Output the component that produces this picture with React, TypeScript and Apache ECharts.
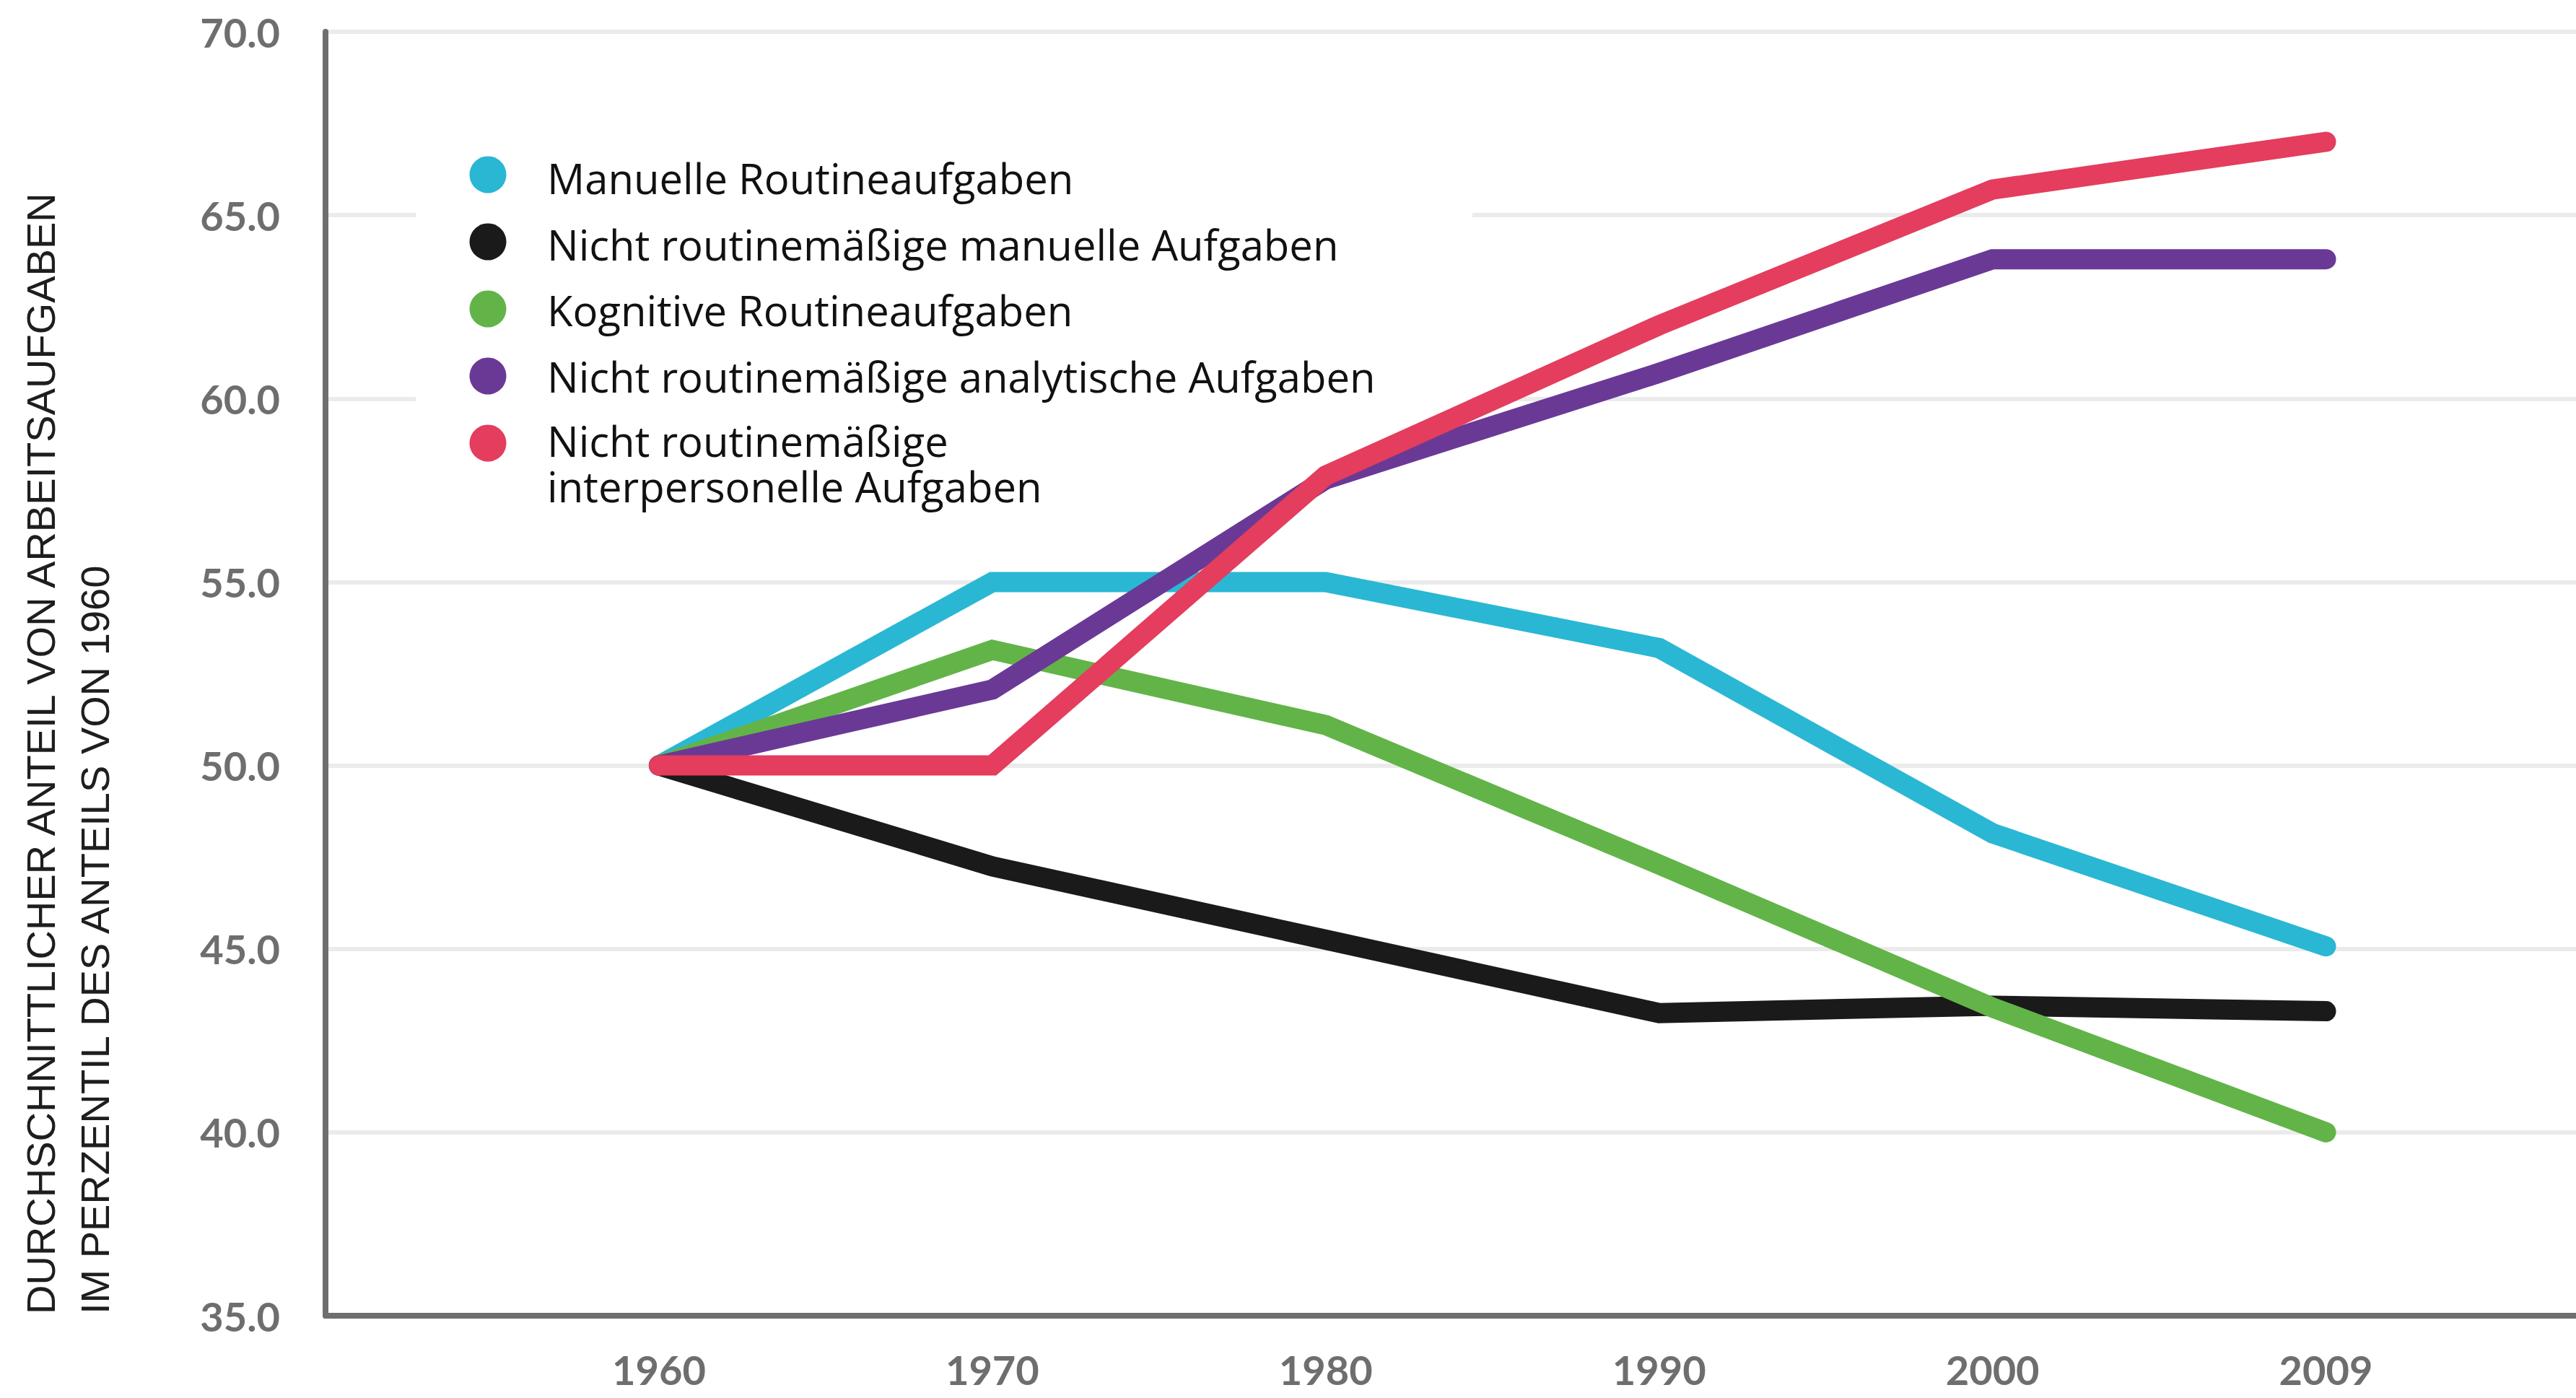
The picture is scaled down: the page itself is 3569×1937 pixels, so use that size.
import React, { useEffect, useRef } from "react";
import * as echarts from "echarts";

const years = ["1960", "1970", "1980", "1990", "2000", "2009"];
const yTicks = [35, 40, 45, 50, 55, 60, 65, 70];

const seriesNames = [
  "Manuelle Routineaufgaben",
  "Nicht routinemäßige manuelle Aufgaben",
  "Kognitive Routineaufgaben",
  "Nicht routinemäßige analytische Aufgaben",
  "Nicht routinemäßige interpersonelle Aufgaben",
];
const legendLabels = [
  ["Manuelle Routineaufgaben"],
  ["Nicht routinemäßige manuelle Aufgaben"],
  ["Kognitive Routineaufgaben"],
  ["Nicht routinemäßige analytische Aufgaben"],
  ["Nicht routinemäßige", "interpersonelle Aufgaben"],
];
const seriesColors = ["#2ab7d4", "#1a1a1a", "#62b448", "#6a3996", "#e43d5d"];

const manuelleRoutine = [50, 55.0, 55.0, 53.2, 48.15, 45.07];
const nichtRoutineManuell = [50, 47.25, 45.25, 43.25, 43.45, 43.3];
const kognitiveRoutine = [50, 53.15, 51.1, 47.3, 43.4, 40.0];
const nichtRoutineAnalytisch = [50, 52.07, 57.8, 60.7, 63.8, 63.8];
const nichtRoutineInterpersonell = [50, 50, 57.9, 62.0, 65.7, 67.0];

const allValues = [
  manuelleRoutine,
  nichtRoutineManuell,
  kognitiveRoutine,
  nichtRoutineAnalytisch,
  nichtRoutineInterpersonell,
];

const yTitleLines = [
  "DURCHSCHNITTLICHER ANTEIL VON ARBEITSAUFGABEN",
  "IM PERZENTIL DES ANTEILS VON 1960",
];

export default function App() {
  const ref = useRef<HTMLDivElement>(null);

  useEffect(() => {
    document.body.style.margin = "0";
    document.body.style.background = "#ffffff";
    if (!ref.current) return;
    const chart = echarts.init(ref.current, undefined, { renderer: "svg" });

    const series = allValues.map((vals, si) => ({
      name: seriesNames[si],
      type: "line",
      data: vals.map((v, i) => [i, v]),
      symbol: "none",
      z: 2 + si * 0.01,
      lineStyle: {
        color: seriesColors[si],
        width: 28,
        cap: "round",
        join: "miter",
      },
      itemStyle: { color: seriesColors[si] },
    }));

    const legendElements: any[] = [
      {
        type: "rect",
        z: 1,
        shape: { x: 576, y: 185, width: 1464, height: 540 },
        style: { fill: "#ffffff" },
      },
    ];
    const circleY = [242, 335, 428, 521, 614];
    const baselines = [[267], [359], [450], [542], [631, 694]];
    legendLabels.forEach((lines, i) => {
      legendElements.push({
        type: "circle",
        z: 3,
        shape: { cx: 676, cy: circleY[i], r: 25.5 },
        style: { fill: seriesColors[i] },
      });
      lines.forEach((t, li) => {
        legendElements.push({
          type: "text",
          z: 3,
          x: 758,
          y: baselines[i][li] - 21,
          style: {
            text: t,
            fill: "#111111",
            fontFamily: "Open Sans",
            fontSize: 58,
            align: "left",
            verticalAlign: "middle",
          },
        });
      });
    });

    const titleElements = yTitleLines.map((t, i) => ({
      type: "text",
      z: 3,
      x: i === 0 ? 56 : 131,
      y: 1821,
      rotation: Math.PI / 2,
      style: {
        text: t,
        fill: "#1e1e1e",
        fontFamily: "Liberation Sans",
        fontSize: 56,
        align: "left",
        verticalAlign: "middle",
      },
    }));

    chart.setOption({
      animation: false,
      backgroundColor: "#ffffff",
      grid: { left: 451, right: 0, top: 44, bottom: 114, containLabel: false },
      xAxis: {
        type: "value",
        min: -1,
        max: 5.75,
        interval: 1,
        axisLine: { show: true, onZero: false, lineStyle: { color: "#6e6e6e", width: 8 } },
        axisTick: { show: false },
        splitLine: { show: false },
        axisLabel: {
          showMaxLabel: false,
          showMinLabel: false,
          margin: 46,
          fontFamily: "Lato",
          fontWeight: "bold",
          fontSize: 56,
          lineHeight: 56,
          color: "#6e6e6e",
          formatter: (v: number) => (Number.isInteger(v) && years[v] ? years[v] : ""),
        },
      },
      yAxis: {
        type: "value",
        min: yTicks[0],
        max: yTicks[yTicks.length - 1],
        interval: 5,
        axisLine: { show: true, onZero: false, lineStyle: { color: "#6e6e6e", width: 8 } },
        axisTick: { show: false },
        splitLine: { show: true, lineStyle: { color: "#ebebeb", width: 6 } },
        axisLabel: {
          margin: 63,
          fontFamily: "Lato",
          fontWeight: "bold",
          fontSize: 56,
          color: "#6e6e6e",
          formatter: (v: number) => v.toFixed(1),
        },
      },
      series,
      graphic: { elements: [...legendElements, ...titleElements] },
    });

    return () => {
      chart.dispose();
    };
  }, []);

  return (
    <div
      ref={ref}
      style={{ position: "absolute", left: 0, top: 0, width: 3569, height: 1937 }}
    />
  );
}
